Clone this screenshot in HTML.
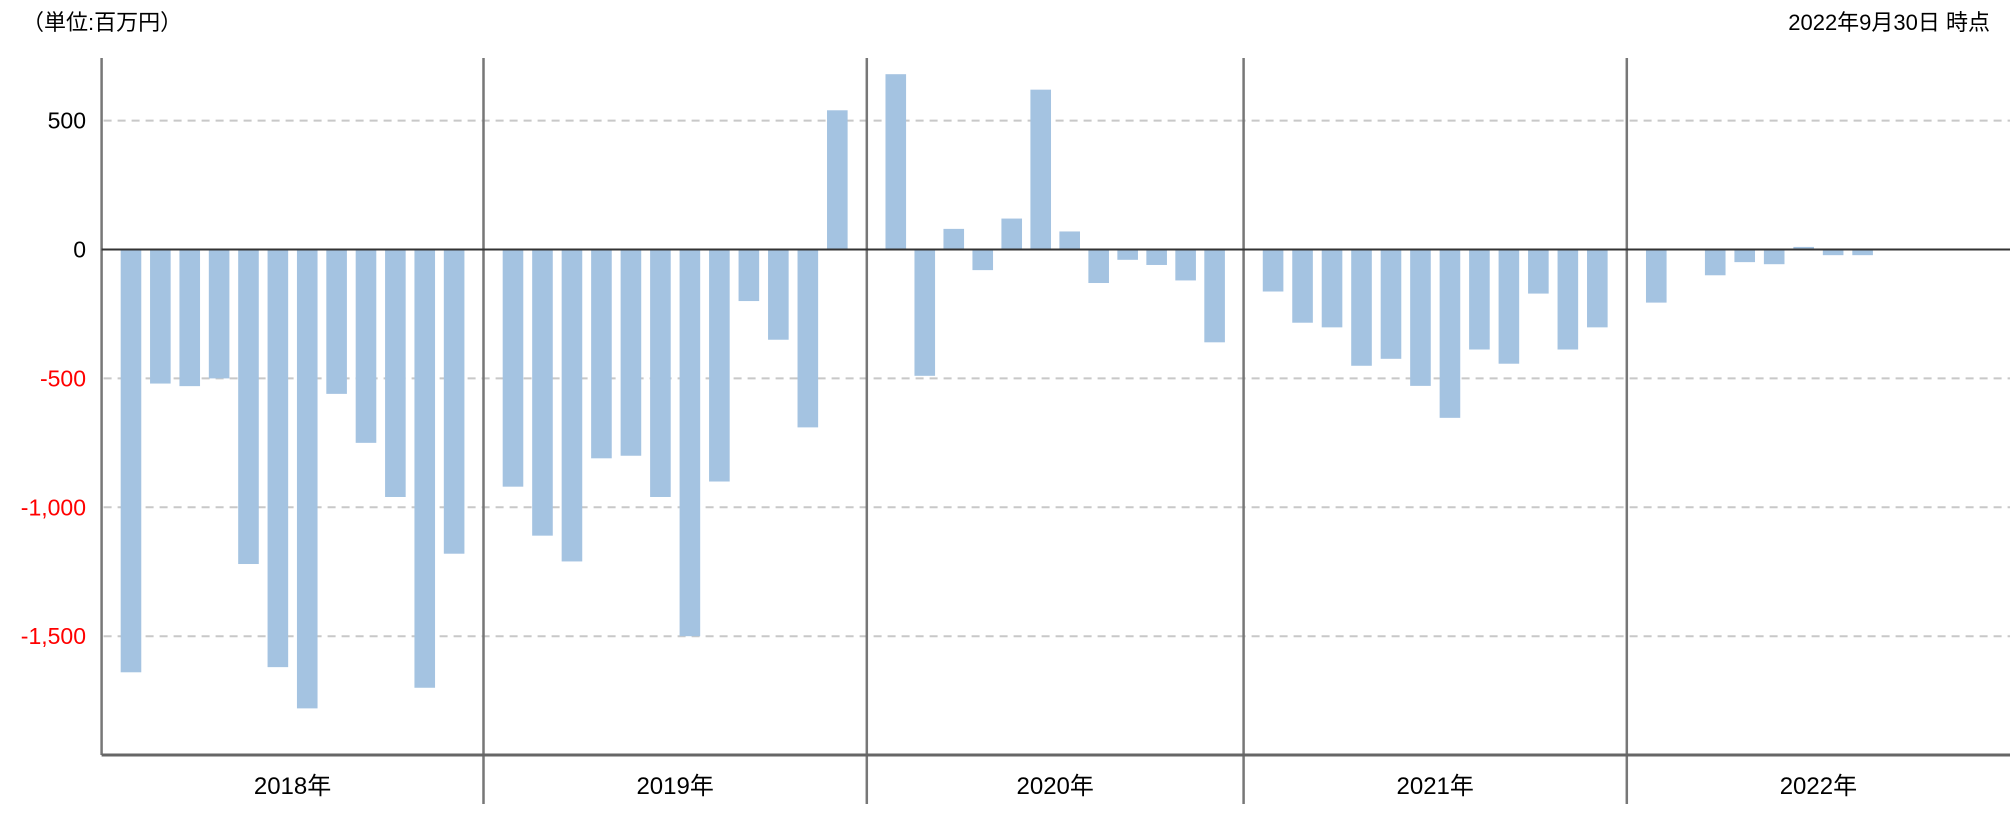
<!DOCTYPE html>
<html><head><meta charset="utf-8">
<style>
html,body{margin:0;padding:0;background:#fff;}
svg{display:block;font-family:"Liberation Sans","Noto Sans CJK JP",sans-serif;}
</style></head>
<body>
<svg id="chart" width="2016" height="821" viewBox="0 0 2016 821">
<text x="22" y="30" font-size="22" fill="#000">（単位:百万円）</text>
<text x="1990" y="30" font-size="22" fill="#000" text-anchor="end">2022年9月30日 時点</text>
<g id="grid"></g><g id="bars"></g><g id="axes"></g>
</svg>
<script>
const years = ["2018年","2019年","2020年","2021年","2022年"];
const v2018 = [-1640,-520,-530,-500,-1220,-1620,-1780,-560,-750,-960,-1700,-1180];
const v2019 = [-920,-1110,-1210,-810,-800,-960,-1500,-900,-200,-350,-690,540];
const v2020 = [680,-490,80,-80,120,620,70,-130,-40,-60,-120,-360];
const v2021 = [-163,-284,-302,-451,-424,-529,-653,-388,-443,-171,-388,-302];
const v2022 = [-206,0,-100,-49,-57,10,-22,-22,0];
const yTicks = [500,0,-500,-1000,-1500];
const yTickLabels = ["500","0","-500","-1,000","-1,500"];
const series = [v2018,v2019,v2020,v2021,v2022];
const yearEdges = [101.6,483.5,866.8,1243.6,1626.8,2010];

const NS="http://www.w3.org/2000/svg";
const svg=document.getElementById('chart');
const gGrid=document.getElementById('grid'), gBars=document.getElementById('bars'), gAxes=document.getElementById('axes');
const y0=249.5, pxPer=0.2578, plotTop=58, plotBottom=755, plotLeft=101.6, plotRight=2010;
function yScale(v){return y0 - v*pxPer;}
function xScale(yi,m){const a=yearEdges[yi],b=yearEdges[yi+1];const w=(b-a)/13;return a+(m+1)*w;}
function mk(tag,attrs,parent){const e=document.createElementNS(NS,tag);for(const k in attrs)e.setAttribute(k,attrs[k]);parent.appendChild(e);return e;}

yTicks.forEach((t,i)=>{
  const y=yScale(t);
  if(t!==0){
    const l=mk('line',{x1:plotLeft+2,x2:plotRight,y1:y,y2:y,stroke:'#c8c8c8','stroke-width':2,'stroke-dasharray':'8,6'},gGrid);
    
    
  }
  const tx=mk('text',{x:86,y:y+8,'font-size':23,'text-anchor':'end',fill:t<0?'#ff0000':'#000'},gAxes);
  tx.textContent=yTickLabels[i];
  
  
});

series.forEach((vals,yi)=>{
  vals.forEach((v,m)=>{
    if(v===0)return;
    const cx=xScale(yi,m), bw=20.6;
    const ya=yScale(Math.max(v,0)), yb=yScale(Math.min(v,0));
    const r=mk('rect',{x:cx-bw/2,y:ya,width:bw,height:yb-ya,fill:'#a4c3e1'},gBars);
    
    
  });
});

yearEdges.slice(0,5).forEach((x,i)=>{
  const l=mk('line',{x1:x,x2:x,y1:plotTop,y2:i===0?plotBottom:804,stroke:'#777','stroke-width':2.5},gAxes);
  
  
  const cx=(yearEdges[i]+yearEdges[i+1])/2;
  const t=mk('text',{x:cx,y:794,'font-size':24,'text-anchor':'middle',fill:'#000'},gAxes);
  t.textContent=years[i];
  
  
});
const zl=mk('line',{x1:plotLeft,x2:plotRight,y1:y0,y2:y0,stroke:'#333','stroke-width':2},gAxes);


const bl=mk('line',{x1:plotLeft,x2:plotRight,y1:plotBottom,y2:plotBottom,stroke:'#666','stroke-width':3},gAxes);


</script>
</body></html>
